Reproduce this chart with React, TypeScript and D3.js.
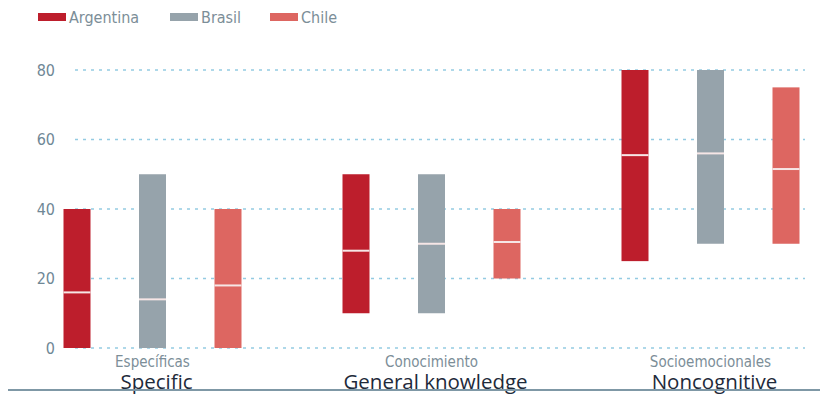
import React from "react";
import * as d3 from "d3";

const categoriesEs = ["Específicas", "Conocimiento", "Socioemocionales"];
const categoriesEn = ["Specific", "General knowledge", "Noncognitive"];
const seriesNames = ["Argentina", "Brasil", "Chile"];
const seriesColors = ["#BD1E2C", "#96A3AB", "#DD6661"];

// [low, median, high] per category
const argentina = [
  [0, 16, 40],
  [10, 28, 50],
  [25, 55.5, 80],
];
const brasil = [
  [0, 14, 50],
  [10, 30, 50],
  [30, 56, 80],
];
const chile = [
  [0, 18, 40],
  [20, 30.5, 40],
  [30, 51.5, 75],
];
const seriesValues = [argentina, brasil, chile];
const yTicks = [0, 20, 40, 60, 80];

const W = 826;
const H = 397;

export default function App() {
  const y = d3.scaleLinear().domain([0, 80]).range([348, 70]);
  const xGroup = d3.scalePoint<string>().domain(categoriesEs).range([152.5, 710.5]);
  const xInner = d3.scalePoint<string>().domain(seriesNames).range([-75.5, 75.5]);
  const barW = 27;
  const condensed = "'DejaVu Sans Condensed', 'DejaVu Sans', sans-serif";
  const condStyle = { fontStretch: "condensed" as const };

  return (
    <svg
      width={W}
      height={H}
      style={{ position: "absolute", left: 0, top: 0, background: "#fff" }}
    >
      {/* legend */}
      {seriesNames.map((s, i) => {
        const lx = [38, 170, 270][i];
        return (
          <g key={s}>
            <rect x={lx} y={13} width={28} height={8} fill={seriesColors[i]} />
            <text
              x={lx + 31}
              y={23}
              fontFamily={condensed}
              fontSize={16}
              style={condStyle}
              fill="#7C8E98"
            >
              {s}
            </text>
          </g>
        );
      })}

      {/* gridlines */}
      {yTicks.map((t) => (
        <g key={t}>
          <line
            x1={75}
            x2={805}
            y1={y(t)}
            y2={y(t)}
            stroke="#94CBE2"
            strokeWidth={1.5}
            strokeDasharray="3,5"
          />
          <text
            x={55}
            y={y(t)}
            dy="0.35em"
            textAnchor="end"
            fontFamily={condensed}
            fontSize={16}
            style={condStyle}
            fill="#6F8796"
          >
            {t}
          </text>
        </g>
      ))}

      {/* bars */}
      {categoriesEs.map((c, ci) => (
        <g key={c}>
          {seriesNames.map((s, si) => {
            const [lo, med, hi] = seriesValues[si][ci];
            const cx = (xGroup(c) as number) + (xInner(s) as number);
            return (
              <g key={s}>
                <rect
                  x={cx - barW / 2}
                  y={y(hi)}
                  width={barW}
                  height={y(lo) - y(hi)}
                  fill={seriesColors[si]}
                />
                <line
                  x1={cx - barW / 2}
                  x2={cx + barW / 2}
                  y1={y(med)}
                  y2={y(med)}
                  stroke="#F6E6E6"
                  strokeWidth={2}
                />
              </g>
            );
          })}
          <text
            x={xGroup(c)}
            y={367}
            textAnchor="middle"
            fontFamily={condensed}
            fontSize={15}
            style={condStyle}
            fill="#7C8E98"
          >
            {c}
          </text>
          <text
            x={(xGroup(c) as number) + 4}
            y={389}
            textAnchor="middle"
            fontFamily="'Open Sans', 'Noto Sans', sans-serif"
            fontSize={20.5}
            fontWeight={500}
            fill="#1E2A3A"
          >
            {categoriesEn[ci]}
          </text>
        </g>
      ))}

      {/* bottom rule */}
      <line x1={8} x2={820} y1={390} y2={390} stroke="#7F98A6" strokeWidth={2} />
    </svg>
  );
}
